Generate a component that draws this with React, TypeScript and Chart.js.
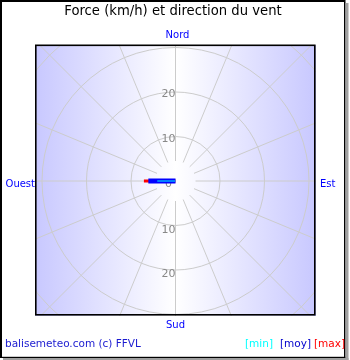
import React, { useEffect, useRef } from "react";
import { Chart, registerables } from "chart.js";

Chart.register(...registerables);

// ---- data ----
const TITLE = "Force (km/h) et direction du vent";
const CARDINAL_LABELS = ["Nord", "Est", "Sud", "Ouest"];
const RING_VALUES = [10, 20, 30, 40, 50];
const RING_TICK_LABELS = ["0", "10", "20"];
const SPOKE_ANGLES = [0, 22.5, 45, 67.5, 90, 112.5, 135, 157.5, 180, 202.5, 225, 247.5, 270, 292.5, 315, 337.5];
const WIND_DIRECTION = 270; // degrees, towards Ouest
const WIND_MIN = 4.1;
const WIND_MOY = 6.1;
const WIND_MAX = 7.1;
const FOOTER = "balisemeteo.com (c) FFVL";
const LEGEND_LABELS = ["[min]", "[moy]", "[max]"];

// ---- layout ----
const W = 350;
const H = 360;
const AREA = { left: 35, top: 45, right: 316, bottom: 316 };
const PX_PER_KMH = 4.45;
const SPOKE_INNER = 4.5;

const FONT = "'DejaVu Sans', Verdana, sans-serif";

function vec(speed: number, dirDeg: number) {
  const a = (dirDeg * Math.PI) / 180;
  return { x: speed * Math.sin(a), y: speed * Math.cos(a) };
}

function barData(speed: number) {
  return [{ x: 0, y: 0 }, vec(speed, WIND_DIRECTION)];
}

export default function App() {
  const ref = useRef<HTMLCanvasElement | null>(null);

  useEffect(() => {
    document.body.style.margin = "0";
    const canvas = ref.current;
    if (!canvas) return;

    const areaW = AREA.right - AREA.left;
    const areaH = AREA.bottom - AREA.top;
    const cyPx = 181 - AREA.top;
    const xRange = areaW / 2 / PX_PER_KMH;
    const yMax = cyPx / PX_PER_KMH;
    const yMin = -(areaH - cyPx) / PX_PER_KMH;

    const backgroundPlugin = {
      id: "windBackground",
      beforeDatasetsDraw(chart: any) {
        const ctx = chart.ctx as CanvasRenderingContext2D;
        const ca = chart.chartArea;
        const xs = chart.scales.x;
        const ys = chart.scales.y;
        const cx = xs.getPixelForValue(0);
        const cy = ys.getPixelForValue(0);
        const pxu = xs.getPixelForValue(1) - cx;

        ctx.save();
        // gradient background
        const g = ctx.createLinearGradient(ca.left, 0, ca.right, 0);
        g.addColorStop(0, "#c8c8ff");
        g.addColorStop(0.5, "#ffffff");
        g.addColorStop(1, "#c8c8ff");
        ctx.fillStyle = g;
        ctx.fillRect(ca.left, ca.top, ca.right - ca.left, ca.bottom - ca.top);

        ctx.beginPath();
        ctx.rect(ca.left, ca.top, ca.right - ca.left, ca.bottom - ca.top);
        ctx.clip();

        ctx.strokeStyle = "#cccccc";
        ctx.lineWidth = 1;
        RING_VALUES.forEach((v) => {
          ctx.beginPath();
          ctx.arc(cx, cy, v * pxu, 0, Math.PI * 2);
          ctx.stroke();
        });
        SPOKE_ANGLES.forEach((a) => {
          const p0 = vec(SPOKE_INNER, a);
          const p1 = vec(80, a);
          ctx.beginPath();
          ctx.moveTo(xs.getPixelForValue(p0.x), ys.getPixelForValue(p0.y));
          ctx.lineTo(xs.getPixelForValue(p1.x), ys.getPixelForValue(p1.y));
          ctx.stroke();
        });

        // ring tick labels
        ctx.fillStyle = "#888888";
        ctx.font = `11px ${FONT}`;
        ctx.textAlign = "right";
        ctx.textBaseline = "alphabetic";
        RING_TICK_LABELS.forEach((t) => {
          const v = Number(t);
          if (v === 0) {
            ctx.fillText(t, cx - 3.5, cy + 6);
          } else {
            ctx.fillText(t, cx, ys.getPixelForValue(v) + 5);
            ctx.fillText(t, cx, ys.getPixelForValue(-v) + 7);
          }
        });
        ctx.restore();
      },
      afterDraw(chart: any) {
        const ctx = chart.ctx as CanvasRenderingContext2D;
        const ca = chart.chartArea;
        const cx = chart.scales.x.getPixelForValue(0);
        const cy = chart.scales.y.getPixelForValue(0);
        ctx.save();
        // plot border
        ctx.strokeStyle = "#000000";
        ctx.lineWidth = 1.6;
        ctx.strokeRect(ca.left + 0.8, ca.top + 0.3, ca.right - ca.left - 2, ca.bottom - ca.top - 1.5);

        // outer frame
        ctx.fillStyle = "#000000";
        ctx.fillRect(0, 0, 2, 358);
        ctx.fillRect(0, 0, 345, 2);
        ctx.fillRect(344, 0, 1.5, 358);
        ctx.fillRect(0, 356.8, 345.5, 1.2);
        ctx.fillStyle = "#a0a0a0";
        ctx.fillRect(345.5, 3, 3, 357);
        ctx.fillRect(3, 358, 345.5, 2);

        // title
        ctx.fillStyle = "#000000";
        ctx.font = `13.2px ${FONT}`;
        ctx.textAlign = "center";
        ctx.textBaseline = "alphabetic";
        ctx.fillText(TITLE, 173, 15);

        // cardinal labels
        ctx.fillStyle = "#0000ff";
        ctx.font = `10px ${FONT}`;
        ctx.textAlign = "center";
        ctx.fillText(CARDINAL_LABELS[0], cx + 2, 37.5);
        ctx.fillText(CARDINAL_LABELS[2], cx, 328);
        ctx.textAlign = "right";
        ctx.fillText(CARDINAL_LABELS[3], ca.left, cy + 6);
        ctx.textAlign = "left";
        ctx.fillText(CARDINAL_LABELS[1], ca.right + 4, cy + 6);

        // footer
        ctx.font = `10.5px ${FONT}`;
        ctx.textAlign = "left";
        ctx.fillStyle = "#1a1ad0";
        ctx.fillText(FOOTER, 5, 347);
        const legendColors = ["#00ffff", "#0000cc", "#ff0000"];
        const legendX = [245, 280, 314];
        LEGEND_LABELS.forEach((l, i) => {
          ctx.fillStyle = legendColors[i];
          ctx.fillText(l, legendX[i], 347);
        });
        ctx.restore();
      },
    };

    const chart = new Chart(canvas, {
      type: "scatter",
      data: {
        datasets: [
          {
            label: "min",
            data: barData(WIND_MIN),
            showLine: true,
            borderColor: "#00ffff",
            borderWidth: 1,
            pointRadius: 0,
            borderCapStyle: "butt",
            order: 1,
          },
          {
            label: "moy",
            data: barData(WIND_MOY),
            showLine: true,
            borderColor: "#0000ff",
            borderWidth: 5,
            pointRadius: 0,
            borderCapStyle: "butt",
            order: 2,
          },
          {
            label: "max",
            data: barData(WIND_MAX),
            showLine: true,
            borderColor: "#ff0000",
            borderWidth: 3,
            pointRadius: 0,
            borderCapStyle: "butt",
            order: 3,
          },
        ],
      } as any,
      options: {
        animation: false,
        responsive: false,
        maintainAspectRatio: false,
        devicePixelRatio: 1,
        layout: {
          padding: { left: AREA.left, top: AREA.top, right: W - AREA.right, bottom: H - AREA.bottom },
        },
        scales: {
          x: { type: "linear", min: -xRange, max: xRange, display: false },
          y: { type: "linear", min: yMin, max: yMax, display: false },
        },
        plugins: {
          legend: { display: false },
          tooltip: { enabled: false },
          title: { display: false },
        },
      } as any,
      plugins: [backgroundPlugin],
    });

    return () => chart.destroy();
  }, []);

  return (
    <div style={{ position: "absolute", left: 0, top: 0, width: W, height: H, background: "#ffffff" }}>
      <canvas ref={ref} width={W} height={H} style={{ width: W, height: H, display: "block" }} />
    </div>
  );
}
